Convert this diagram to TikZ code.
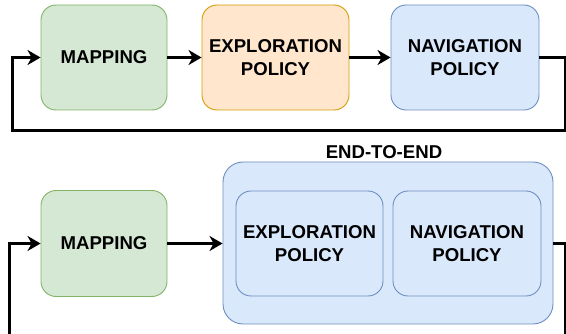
\documentclass[tikz,border=0pt]{standalone}
\usepackage{fontspec}
\setmainfont{Liberation Sans}
\usetikzlibrary{arrows.meta}

\definecolor{mapfill}{HTML}{D5E8D4}
\definecolor{mapdraw}{HTML}{82B366}
\definecolor{expfill}{HTML}{FFE6CC}
\definecolor{expdraw}{HTML}{D79B00}
\definecolor{navfill}{HTML}{DAE8FC}
\definecolor{navdraw}{HTML}{6C8EBF}

\tikzset{
  block/.style={rectangle, rounded corners=15pt, line width=0.9pt,
    align=center, inner sep=0pt,
    font=\fontsize{18.6}{22.3}\selectfont\bfseries},
  mapbox/.style={block, fill=mapfill, draw=mapdraw},
  expbox/.style={block, fill=expfill, draw=expdraw},
  navbox/.style={block, fill=navfill, draw=navdraw},
  groupbox/.style={rectangle, rounded corners=20pt, line width=0.9pt,
    fill=navfill, draw=navdraw, inner sep=0pt},
  flow/.style={line width=3pt, line join=miter, black,
    -{Stealth[length=13pt, width=15pt, inset=4pt]}},
  grouplabel/.style={font=\fontsize{18.6}{22.3}\selectfont\bfseries}
}

\begin{document}
\begin{tikzpicture}[x=1pt, y=-1pt]
  \useasboundingbox (0,0) rectangle (566,334);

  % modular pipeline
  \node[mapbox, minimum width=126pt, minimum height=105pt] (map1) at (104,57.5) {MAPPING};
  \node[expbox, minimum width=147pt, minimum height=105pt] (exp1) at (275.5,57.5) {EXPLORATION\\POLICY};
  \node[navbox, minimum width=148pt, minimum height=105pt] (nav1) at (465,57.5) {NAVIGATION\\POLICY};

  \coordinate (t1) at (565,57.5);
  \coordinate (t2) at (565,131);
  \coordinate (t3) at (12,131);
  \coordinate (t4) at (12,57.5);

  \draw[flow] (map1.east) -- (exp1.west);
  \draw[flow] (exp1.east) -- (nav1.west);
  \draw[flow] (nav1.east) -- (t1) -- (t2) -- (t3) -- (t4) -- (map1.west);

  % end-to-end pipeline
  \node[grouplabel] (e2elabel) at (384,152.5) {END-TO-END};
  \node[groupbox, minimum width=330pt, minimum height=162pt] (e2e) at (388,243) {};
  \node[mapbox, minimum width=126pt, minimum height=106pt] (map2) at (104,243.5) {MAPPING};
  \node[navbox, minimum width=147pt, minimum height=105pt] (exp2) at (309.5,243.5) {EXPLORATION\\POLICY};
  \node[navbox, minimum width=148pt, minimum height=105pt] (nav2) at (467,243.5) {NAVIGATION\\POLICY};

  \coordinate (b1) at (565.5,243.5);
  \coordinate (b2) at (565.5,336);
  \coordinate (b3) at (9.5,336);
  \coordinate (b4) at (9.5,243.5);

  \draw[flow] (map2.east) -- (e2e.west |- map2.east);
  \draw[flow] (e2e.east |- b1) -- (b1) -- (b2) -- (b3) -- (b4) -- (map2.west);
\end{tikzpicture}
\end{document}
